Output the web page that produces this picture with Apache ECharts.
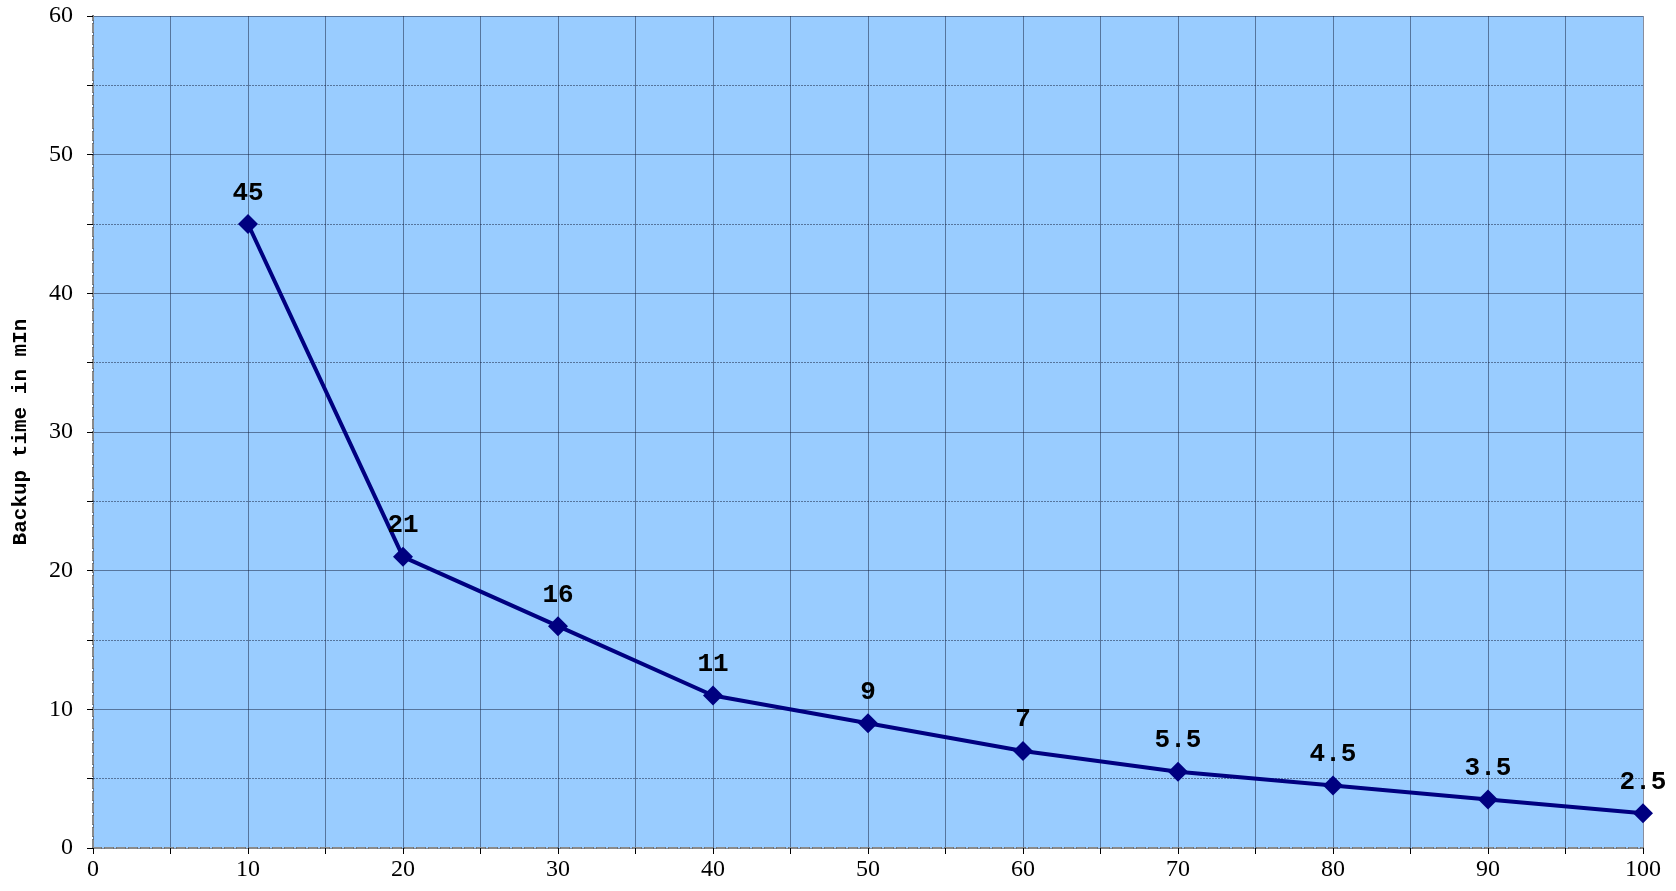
<!DOCTYPE html>
<html>
<head>
<meta charset="utf-8">
<script src="https://cdn.jsdelivr.net/npm/echarts@6/dist/echarts.min.js"></script>
<style>html,body{margin:0;padding:0;background:#fff}#c{width:1676px;height:891px}</style>
</head>
<body>
<div id="c"></div>
<script>
const xValues = [10, 20, 30, 40, 50, 60, 70, 80, 90, 100];
const backupTime = [45, 21, 16, 11, 9, 7, 5.5, 4.5, 3.5, 2.5];
const yAxisTitle = 'Backup time in mIn';

const chart = echarts.init(document.getElementById('c'));
const gridColor = 'rgba(20,30,60,0.5)';
const tickFont = { fontFamily: 'Liberation Serif', fontSize: 24, color: '#000' };
chart.setOption({
  animation: false,
  backgroundColor: '#fff',
  grid: { left: 93, right: 33, top: 16, bottom: 43, show: true, backgroundColor: '#99CCFF', borderWidth: 0 },
  xAxis: [{
    type: 'value', min: 0, max: 100, interval: 10,
    axisLine: { show: true, onZero: false, lineStyle: { color: '#000', type: 'dashed', width: 2 } },
    axisTick: { show: true, length: 6, lineStyle: { color: '#000' } },
    minorTick: { show: true, splitNumber: 2, length: 6, lineStyle: { color: '#000' } },
    axisLabel: Object.assign({ margin: 10 }, tickFont),
    splitLine: { show: true, lineStyle: { color: gridColor, width: 1 } },
    minorSplitLine: { show: true, lineStyle: { color: gridColor, width: 1 } }
  }, {
    type: 'value', position: 'top', min: 0, max: 100,
    axisLine: { show: true, lineStyle: { color: '#8a8a8a', type: 'dashed', width: 2 } },
    axisTick: { show: false }, axisLabel: { show: false }, splitLine: { show: false }
  }],
  yAxis: [{
    type: 'value', min: 0, max: 60, interval: 10,
    name: yAxisTitle, nameLocation: 'middle', nameGap: 62, nameRotate: 90,
    nameTextStyle: { fontFamily: 'Liberation Mono', fontWeight: 'bold', fontSize: 21, color: '#000' },
    axisLine: { show: true, onZero: false, lineStyle: { color: '#000', type: 'dashed', width: 2 } },
    axisTick: { show: true, length: 6, lineStyle: { color: '#000' } },
    minorTick: { show: true, splitNumber: 2, length: 6, lineStyle: { color: '#000' } },
    axisLabel: Object.assign({ margin: 20 }, tickFont),
    splitLine: { show: true, lineStyle: { color: gridColor, width: 1 } },
    minorSplitLine: { show: true, lineStyle: { color: gridColor, width: 1, type: [2, 1] } }
  }, {
    type: 'value', position: 'right', min: 0, max: 60,
    axisLine: { show: true, lineStyle: { color: '#8a8a8a', type: 'dashed', width: 2 } },
    axisTick: { show: false }, axisLabel: { show: false }, splitLine: { show: false }
  }],
  series: [{
    type: 'line',
    data: xValues.map((x, i) => [x, backupTime[i]]),
    symbol: 'diamond', symbolSize: 20,
    lineStyle: { color: '#000080', width: 4 },
    itemStyle: { color: '#000080' },
    label: {
      show: true, position: 'top', distance: 8,
      fontFamily: 'Liberation Mono', fontWeight: 'bold', fontSize: 26, color: '#000'
    },
    z: 5
  }]
});
</script>
</body>
</html>
